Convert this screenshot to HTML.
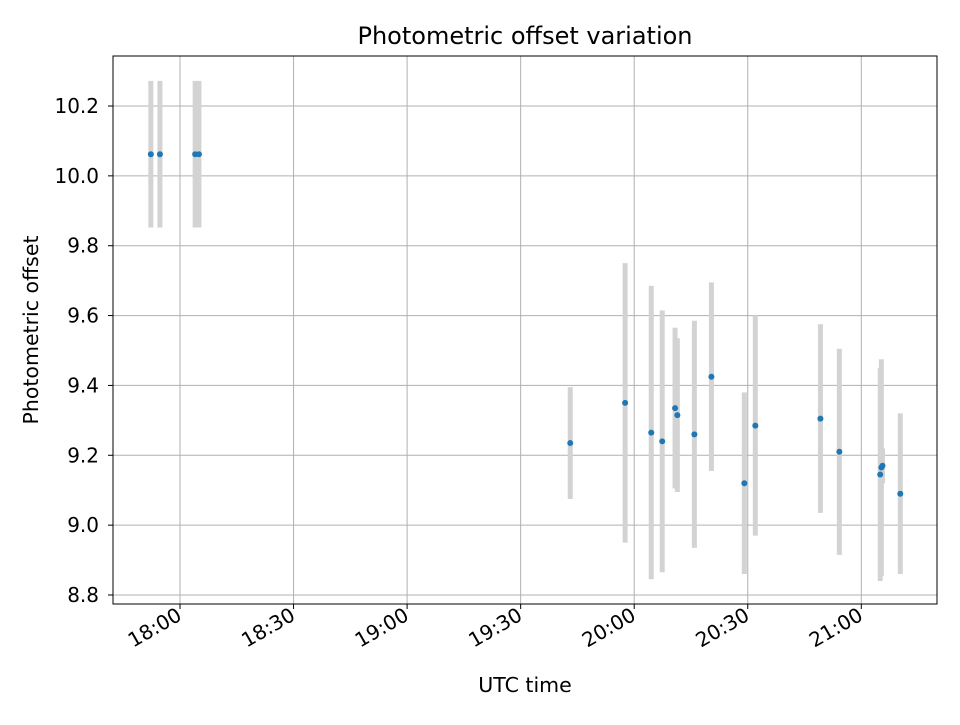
<!DOCTYPE html>
<html><head><meta charset="utf-8"><style>
body{margin:0;background:#fff;font-family:"Liberation Sans","DejaVu Sans",sans-serif}
svg text{font-family:"DejaVu Sans","Liberation Sans",sans-serif}
</style></head><body>
<svg id="chart" width="960" height="720" xmlns="http://www.w3.org/2000/svg">
<rect width="960" height="720" fill="#fff"/>
<text x="525" y="44" text-anchor="middle" font-size="24">Photometric offset variation</text>
<g id="grid"></g><g id="bars"></g><g id="pts"></g><g id="ticks"></g>
<rect x="113" y="56" width="824" height="548" fill="none" stroke="#000" stroke-width="1"/>
<text x="525" y="692" text-anchor="middle" font-size="20.5">UTC time</text>
<text transform="translate(38,330) rotate(-90)" text-anchor="middle" font-size="20.5">Photometric offset</text>
</svg>
<script>
// minutes relative to 18:00 UTC
const times=[-7.7,-5.3,4,5,103.1,117.6,124.5,127.4,130.8,131.4,135.9,140.4,149.1,152,169.2,174.2,185,185.3,185.6,190.3];
const offsets=[10.062,10.062,10.062,10.062,9.235,9.35,9.265,9.24,9.335,9.315,9.26,9.425,9.12,9.285,9.305,9.21,9.145,9.165,9.17,9.09];
const errors=[0.21,0.21,0.21,0.21,0.16,0.4,0.42,0.375,0.23,0.22,0.325,0.27,0.26,0.315,0.27,0.295,0.305,0.31,0.05,0.23];
const xTickMinutes=[0,30,60,90,120,150,180];
const xTickLabels=["18:00","18:30","19:00","19:30","20:00","20:30","21:00"];
const yTicks=[8.8,9.0,9.2,9.4,9.6,9.8,10.0,10.2];
const yTickLabels=["8.8","9.0","9.2","9.4","9.6","9.8","10.0","10.2"];
const NS="http://www.w3.org/2000/svg";
const x=m=>180+m*113.55/30;
const y=v=>595-(v-8.8)*(489/1.4);
function mk(tag,attrs,parent){const e=document.createElementNS(NS,tag);for(const k in attrs)e.setAttribute(k,attrs[k]);document.getElementById(parent).appendChild(e);return e;}
xTickMinutes.forEach((m,i)=>{
 const g=mk('line',{x1:x(m),x2:x(m),y1:56,y2:604,stroke:'#b0b0b0','stroke-width':1},'grid');
 
 
 const t=mk('line',{x1:x(m),x2:x(m),y1:604,y2:609,stroke:'#000'},'ticks');
 
 
 const px=x(m)+3, py=619;
 const l=mk('text',{x:px,y:py,'text-anchor':'end','font-size':20,transform:`rotate(-30 ${px} ${py})`},'ticks');
 l.textContent=xTickLabels[i];
 
 
});
yTicks.forEach((v,i)=>{
 const g=mk('line',{x1:113,x2:937,y1:y(v),y2:y(v),stroke:'#b0b0b0','stroke-width':1},'grid');
 
 
 const t=mk('line',{x1:108,x2:113,y1:y(v),y2:y(v),stroke:'#000'},'ticks');
 
 
 const l=mk('text',{x:99,y:y(v)+7,'text-anchor':'end','font-size':20},'ticks');
 l.textContent=yTickLabels[i];
 
 
});
times.forEach((m,i)=>{
 const b=mk('line',{x1:x(m),x2:x(m),y1:y(offsets[i]-errors[i]),y2:y(offsets[i]+errors[i]),stroke:'#d3d3d3','stroke-width':5},'bars');
 
 
 const p=mk('circle',{cx:x(m),cy:y(offsets[i]),r:3,fill:'#1f77b4'},'pts');
 
 
});
</script>
</body></html>
